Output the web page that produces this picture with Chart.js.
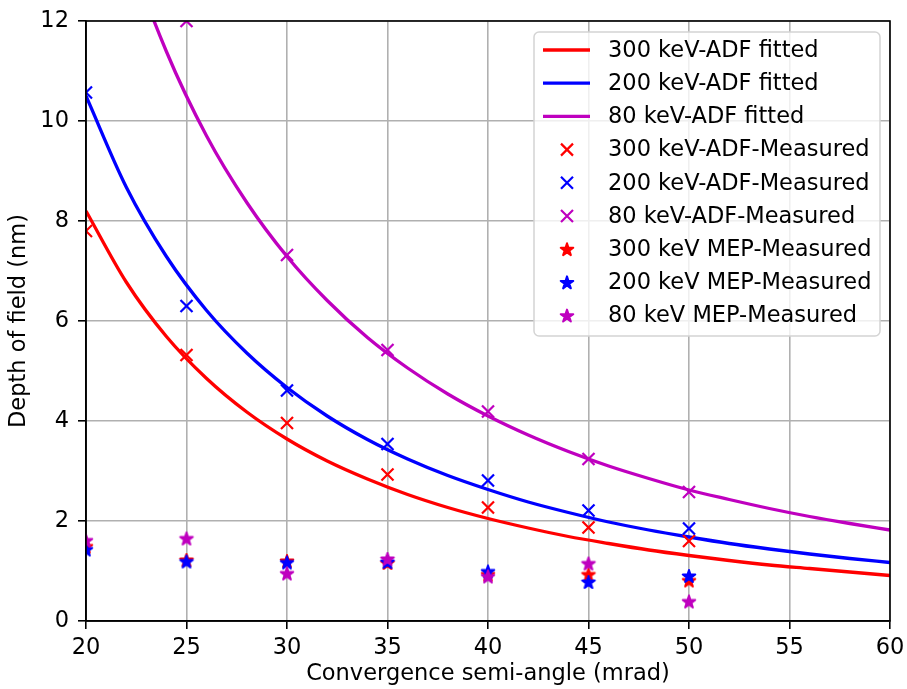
<!DOCTYPE html>
<html>
<head>
<meta charset="utf-8">
<script src="https://cdn.jsdelivr.net/npm/chart.js"></script>
<style>
  body { margin: 0; background: #fff; }
  #wrap { width: 907px; height: 689px; }
</style>
</head>
<body>
<div id="wrap"><canvas id="dofChart" width="907" height="689"></canvas></div>
<script>
    // angles where depth of field was measured (mrad)
    const angles = [20, 25, 30, 35, 40, 45, 50];

    // ADF measured depth of field (nm)
    const adf300 = [7.8, 5.32, 3.96, 2.93, 2.27, 1.87, 1.6];
    const adf200 = [10.57, 6.3, 4.61, 3.54, 2.81, 2.21, 1.85];
    const adf80Angles = [25, 30, 35, 40, 45, 50];
    const adf80 = [12.0, 7.32, 5.42, 4.19, 3.24, 2.58];

    // MEP measured depth of field (nm)
    const mep300 = [1.49, 1.22, 1.2, 1.16, 0.93, 0.93, 0.81];
    const mep200 = [1.43, 1.19, 1.17, 1.18, 0.99, 0.78, 0.9];
    const mep80 = [1.61, 1.65, 0.95, 1.24, 0.89, 1.15, 0.39];

    const fitAngles = [20, 22, 24, 26, 28, 30, 32, 34, 36, 38, 40, 42, 44, 46, 48, 50, 52, 54, 56, 58, 60];
    const fit300 = [8.2, 6.78, 5.69, 4.85, 4.18, 3.64, 3.2, 2.84, 2.53, 2.27, 2.05, 1.86, 1.69, 1.55, 1.42, 1.31, 1.21, 1.12, 1.05, 0.98, 0.91];
    const fit200 = [10.5, 8.68, 7.29, 6.21, 5.36, 4.67, 4.1, 3.63, 3.24, 2.91, 2.63, 2.38, 2.17, 1.98, 1.82, 1.68, 1.55, 1.44, 1.34, 1.25, 1.17];
    const fit80 = [16.4, 13.55, 11.39, 9.7, 8.37, 7.29, 6.41, 5.67, 5.06, 4.54, 4.1, 3.72, 3.39, 3.1, 2.85, 2.62, 2.43, 2.25, 2.09, 1.95, 1.82];

    const xTicks = [20, 25, 30, 35, 40, 45, 50, 55, 60];
    const yTicks = [0, 2, 4, 6, 8, 10, 12];

    const RED = '#ff0000', BLUE = '#0000ff', MAG = '#bf00bf';
    const FONT = "'DejaVu Sans', sans-serif";
    const FSIZE = 22.5;

    function pts(xs, ys) {
        return xs.map((x, i) => ({x: x, y: ys[i]}));
    }

    function starPath(ctx, cx, cy, r) {
        const ri = r * 0.382;
        ctx.beginPath();
        for (let i = 0; i < 10; i++) {
            const rr = i % 2 ? ri : r;
            const a = -Math.PI / 2 + i * Math.PI / 5;
            const px = cx + rr * Math.cos(a), py = cy + rr * Math.sin(a);
            if (i === 0) ctx.moveTo(px, py); else ctx.lineTo(px, py);
        }
        ctx.closePath();
    }

    function drawStar(ctx, cx, cy, color) {
        starPath(ctx, cx, cy, 6.6);
        ctx.fillStyle = color;
        ctx.strokeStyle = color;
        ctx.lineWidth = 2;
        ctx.lineJoin = 'round';
        ctx.fill();
        ctx.stroke();
    }

    function starImage(color) {
        const c = document.createElement('canvas');
        c.width = 20; c.height = 20;
        drawStar(c.getContext('2d'), 10, 10.6, color);
        return c;
    }

    function fitted(label, ys, color) {
        return {
            label: label, data: pts(fitAngles, ys), showLine: true,
            borderColor: color, backgroundColor: color, borderWidth: 3.3,
            pointRadius: 0, cubicInterpolationMode: 'monotone'
        };
    }
    function crosses(label, xs, ys, color) {
        return {
            label: label, data: pts(xs, ys), showLine: false,
            pointStyle: 'crossRot', pointRadius: 8.5, pointBorderWidth: 2.2,
            borderColor: color, backgroundColor: color
        };
    }
    function stars(label, ys, color) {
        return {
            label: label, data: pts(angles, ys), showLine: false,
            pointStyle: starImage(color), pointRadius: 8,
            borderColor: color, backgroundColor: color
        };
    }

    const datasets = [
        fitted('300 keV-ADF fitted', fit300, RED),
        fitted('200 keV-ADF fitted', fit200, BLUE),
        fitted('80 keV-ADF fitted', fit80, MAG),
        crosses('300 keV-ADF-Measured', angles, adf300, RED),
        crosses('200 keV-ADF-Measured', angles, adf200, BLUE),
        crosses('80 keV-ADF-Measured', adf80Angles, adf80, MAG),
        stars('300 keV MEP-Measured', mep300, RED),
        stars('200 keV MEP-Measured', mep200, BLUE),
        stars('80 keV MEP-Measured', mep80, MAG)
    ];
    // later series go on top, like matplotlib
    datasets.forEach((d, i) => { d.order = datasets.length - i; });

    // top/right spines drawn over the data
    const framePlugin = {
        id: 'frame',
        afterDatasetsDraw(chart) {
            const {ctx, chartArea: a} = chart;
            ctx.save();
            ctx.strokeStyle = '#000';
            ctx.lineWidth = 1.6;
            ctx.strokeRect(a.left, a.top, a.right - a.left, a.bottom - a.top);
            ctx.restore();
        }
    };

    // matplotlib style legend box in the upper right
    const boxLegend = {
        id: 'boxLegend',
        afterDraw(chart) {
            const ctx = chart.ctx;
            const x0 = 534, y0 = 32, w = 346, h = 304, rowH = 33.2, firstRow = 50;
            ctx.save();
            ctx.beginPath();
            ctx.roundRect(x0, y0, w, h, 5);
            ctx.fillStyle = 'rgba(255,255,255,0.8)';
            ctx.fill();
            ctx.strokeStyle = '#d4d4d4';
            ctx.lineWidth = 1.5;
            ctx.stroke();
            ctx.font = FSIZE + 'px ' + FONT;
            ctx.textBaseline = 'middle';
            chart.data.datasets.forEach((ds, i) => {
                const y = firstRow + i * rowH;
                const mx = 567;
                ctx.strokeStyle = ds.borderColor;
                if (ds.showLine) {
                    ctx.lineWidth = 3.3;
                    ctx.beginPath();
                    ctx.moveTo(543, y); ctx.lineTo(590, y);
                    ctx.stroke();
                } else if (ds.pointStyle === 'crossRot') {
                    ctx.lineWidth = 2.2;
                    ctx.beginPath();
                    ctx.moveTo(mx - 6, y - 6); ctx.lineTo(mx + 6, y + 6);
                    ctx.moveTo(mx + 6, y - 6); ctx.lineTo(mx - 6, y + 6);
                    ctx.stroke();
                } else {
                    drawStar(ctx, mx, y + 0.6, ds.borderColor);
                }
                ctx.fillStyle = '#000';
                ctx.fillText(ds.label, 608, y + 1);
            });
            ctx.restore();
        }
    };

    new Chart(document.getElementById('dofChart'), {
        type: 'scatter',
        data: { datasets: datasets },
        options: {
            responsive: false,
            devicePixelRatio: 1,
            animation: false,
            events: [],
            layout: { padding: { top: 21, right: 17, left: 0, bottom: 0 } },
            plugins: { legend: { display: false }, tooltip: { enabled: false } },
            scales: {
                x: {
                    type: 'linear', min: 20, max: 60,
                    afterBuildTicks: s => { s.ticks = xTicks.map(v => ({value: v})); },
                    afterFit: s => { s.height = 68; s.paddingLeft = 0; s.paddingRight = 0; },
                    grid: { color: '#b0b0b0', lineWidth: 1.6, tickLength: 8, tickColor: '#000', tickWidth: 1.6 },
                    border: { color: '#000', width: 1.6 },
                    ticks: { color: '#000', padding: 6, maxRotation: 0, font: { family: FONT, size: FSIZE } },
                    title: { display: true, text: 'Convergence semi-angle (mrad)', color: '#000',
                             padding: { top: 0, bottom: 1 }, font: { family: FONT, size: FSIZE } }
                },
                y: {
                    type: 'linear', min: 0, max: 12,
                    afterBuildTicks: s => { s.ticks = yTicks.map(v => ({value: v})); },
                    afterFit: s => { s.width = 86; s.paddingTop = 0; s.paddingBottom = 0; },
                    grid: { color: '#b0b0b0', lineWidth: 1.6, tickLength: 8, tickColor: '#000', tickWidth: 1.6 },
                    border: { color: '#000', width: 1.6 },
                    ticks: { color: '#000', padding: 9, font: { family: FONT, size: FSIZE } },
                    title: { display: true, text: 'Depth of field (nm)', color: '#000',
                             padding: { top: 6, bottom: 0 }, font: { family: FONT, size: FSIZE } }
                }
            }
        },
        plugins: [framePlugin, boxLegend]
    });
</script>
</body>
</html>
